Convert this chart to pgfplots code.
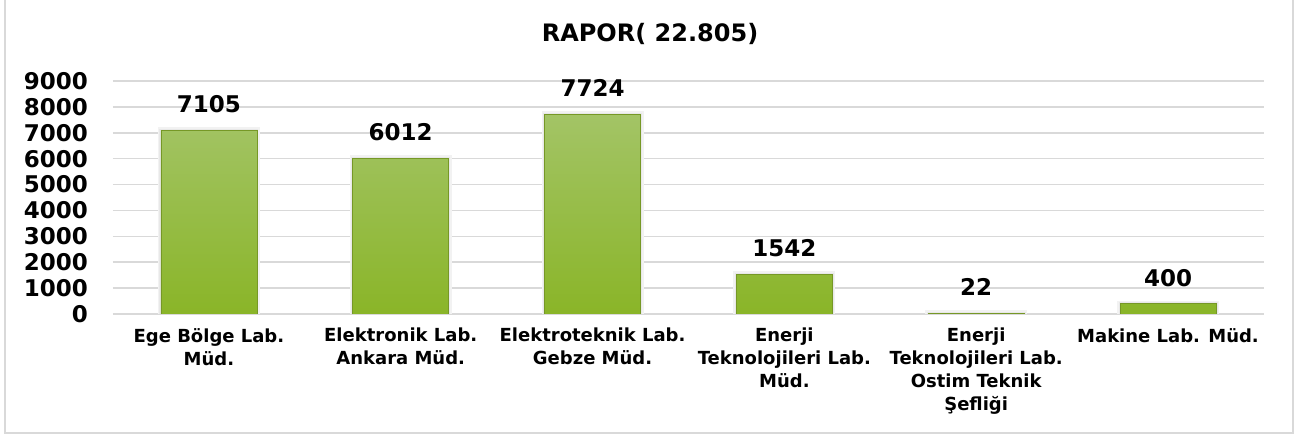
\documentclass[border=0pt]{standalone}
\usepackage{fontspec}
\setmainfont{DejaVu Sans}
\usepackage{pgfplots}
\pgfplotsset{compat=1.18}
\definecolor{gridc}{RGB}{217,217,217}
\definecolor{bartop}{RGB}{163,196,102}
\definecolor{barmid}{RGB}{152,193,52}
\definecolor{barbot}{RGB}{138,181,40}
\definecolor{baredge}{RGB}{118,152,38}
\begin{document}
\begin{tikzpicture}[x=1pt,y=1pt]
\useasboundingbox (0,0) rectangle (1307,436);
\draw[gridc, line width=1.5pt] (5,3) rectangle (1293,440);
\node[font=\fontsize{24}{24}\selectfont\bfseries] at (650,402) {RAPOR( 22.805)};
\begin{axis}[
  at={(113pt,122pt)}, anchor=south west,
  scale only axis, width=1151pt, height=233pt,
  xmin=-0.5, xmax=5.5, ymin=0, ymax=9000,
  ytick={0,1000,...,9000},
  xtick={0,...,5},
  xticklabels={{Ege Bölge Lab.\\Müd.},{Elektronik Lab.\\Ankara Müd.},{Elektroteknik Lab.\\Gebze Müd.},{Enerji\\Teknolojileri Lab.\\Müd.},{Enerji\\Teknolojileri Lab.\\Ostim Teknik\\Şefliği},{Makine Lab. Müd.}},
  ymajorgrids, grid style={draw=gridc, line width=1.6pt},
  axis line style={draw=none},
  major tick length=0pt,
  /pgf/number format/1000 sep={},
  /pgf/number format/assume math mode=true,
  yticklabel style={font=\fontsize{23}{23}\selectfont\bfseries, anchor=east, inner sep=0pt, xshift=-25pt},
  xticklabel style={font=\fontsize{18}{23}\selectfont\bfseries, anchor=north, inner sep=0pt, yshift=-14pt, align=center},
  ybar, bar width=96pt,
  nodes near coords,
  every node near coord/.append style={font=\fontsize{23}{23}\selectfont\bfseries, anchor=center, yshift=26pt},
]
\addplot[draw=baredge, line width=0.8pt, top color=bartop, middle color=barmid, bottom color=barbot,
  preaction={draw=black!5, line width=6pt},
  preaction={draw=black!9, line width=3pt}] coordinates {(0,7105) (1,6012) (2,7724) (3,1542) (4,22) (5,400)};
\end{axis}
\end{tikzpicture}
\end{document}
